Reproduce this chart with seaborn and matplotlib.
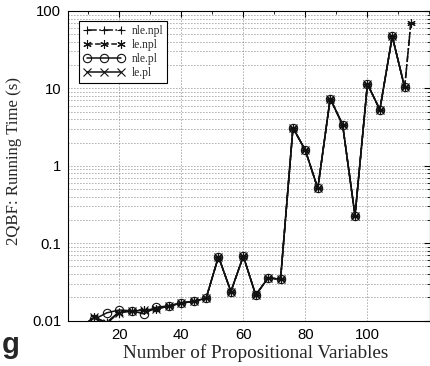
import numpy as np
import pandas as pd
import matplotlib
matplotlib.use("Agg")
import matplotlib.pyplot as plt
import seaborn as sns
from matplotlib.ticker import FixedLocator, MultipleLocator, LogLocator, NullFormatter, FixedFormatter

sns.set_theme(style="white")
plt.rcParams['font.family'] = ['Liberation Sans', 'DejaVu Sans']

# ---- data ----
x_nle_npl = [12, 16, 20, 24, 28, 32, 36, 40, 44, 48, 52, 56, 60, 64, 68, 72, 76, 80, 84, 88, 92, 96, 100, 104, 108, 112, 114]
y_nle_npl = [0.0108, 0.0095, 0.0130, 0.0134, 0.0137, 0.0142, 0.0155, 0.0168, 0.0178, 0.0194, 0.067, 0.0237, 0.068, 0.0214,
             0.0357, 0.0342, 3.1, 1.58, 0.51, 7.4, 3.39, 0.227, 11.4, 5.3, 47.0, 10.3, 71.0]

x_le_npl = [8, 12, 16, 20, 24, 28, 32, 36, 40, 44, 48, 52, 56, 60, 64, 68, 72, 76, 80, 84, 88, 92, 96, 100, 104, 108, 112, 114]
y_le_npl = [0.0085, 0.0110, 0.0093, 0.0127, 0.0133, 0.0138, 0.0140, 0.0155, 0.0168, 0.0178, 0.0194, 0.067, 0.0237, 0.068, 0.0214,
            0.0357, 0.0342, 3.1, 1.58, 0.51, 7.4, 3.39, 0.227, 11.4, 5.3, 47.0, 10.3, 71.0]

x_nle_pl = [12, 16, 20, 24, 28, 32, 36, 40, 44, 48, 52, 56, 60, 64, 68, 72, 76, 80, 84, 88, 92, 96, 100, 104, 108, 112]
y_nle_pl = [0.0104, 0.0126, 0.0137, 0.0134, 0.0122, 0.0149, 0.0155, 0.0168, 0.0178, 0.0194, 0.067, 0.0237, 0.068, 0.0214,
            0.0357, 0.0342, 3.1, 1.58, 0.51, 7.4, 3.39, 0.227, 11.4, 5.3, 47.0, 10.3]

x_le_pl = [8, 12, 16, 20, 24, 28, 32, 36, 40, 44, 48, 52, 56, 60, 64, 68, 72, 76, 80, 84, 88, 92, 96, 100, 104, 108, 112]
y_le_pl = [0.0085, 0.0111, 0.0094, 0.0127, 0.0133, 0.0136, 0.0140, 0.0155, 0.0168, 0.0178, 0.0194, 0.067, 0.0237, 0.068, 0.0214,
           0.0357, 0.0342, 3.1, 1.58, 0.51, 7.4, 3.39, 0.227, 11.4, 5.3, 47.0, 10.3]

series_names = ["nle.npl", "le.npl", "nle.pl", "le.pl"]
x_ticks = [20, 40, 60, 80, 100]
y_ticks = [0.01, 0.1, 1, 10, 100]
y_tick_labels = ["0.01", "0.1", "1", "10", "100"]

W, H = 430, 366

# ---- figure ----
fig = plt.figure(figsize=(W / 100, H / 100), dpi=100)
AX_L, AX_R, AX_T, AX_B = 68.3, 429.5, 11.0, 320.6
ax = fig.add_axes([AX_L / W, 1 - AX_B / H, (AX_R - AX_L) / W, (AX_B - AX_T) / H])

asterisk = (6, 2, 0)
styles = [
    dict(linestyle='-.', marker='+', markersize=6, markeredgewidth=0.8),
    dict(linestyle='--', marker=asterisk, markersize=6, markeredgewidth=0.8),
    dict(linestyle='-', marker='o', markersize=6, markerfacecolor='none', markeredgewidth=0.8),
    dict(linestyle='-', marker='x', markersize=5.5, markeredgewidth=0.8),
]
data = [(x_nle_npl, y_nle_npl), (x_le_npl, y_le_npl), (x_nle_pl, y_nle_pl), (x_le_pl, y_le_pl)]
for name, (xs, ys), st in zip(series_names, data, styles):
    df = pd.DataFrame({"x": xs, "y": ys})
    sns.lineplot(data=df, x="x", y="y", ax=ax, color='#111111', linewidth=1.1,
                 label=name, markeredgecolor='#111111', **st)

ax.set_yscale('log')
ax.set_xlim(3.6, 120)
ax.set_ylim(0.01, 100)
ax.set_xlabel("")
ax.set_ylabel("")

ax.xaxis.set_major_locator(FixedLocator(x_ticks))
ax.xaxis.set_minor_locator(MultipleLocator(10))
ax.yaxis.set_major_locator(FixedLocator(y_ticks))
ax.yaxis.set_major_formatter(FixedFormatter(y_tick_labels))
ax.yaxis.set_minor_locator(LogLocator(base=10, subs=np.arange(2, 10)))
ax.yaxis.set_minor_formatter(NullFormatter())

grid_kw = dict(linestyle=(0, (1, 2.6)), color='#555555', linewidth=0.6)
ax.xaxis.grid(True, which='major', **grid_kw)
ax.yaxis.grid(True, which='both', **grid_kw)

ax.tick_params(axis='both', which='both', direction='in', top=True, right=True,
               labelsize=10.7, colors='black', pad=5)
ax.tick_params(which='major', length=4, width=0.8)
ax.tick_params(which='minor', length=2, width=0.6)
for s in ax.spines.values():
    s.set_color('black')
    s.set_linewidth(0.8)

# axis labels placed as free texts so their extents can be fitted
xl = fig.text(255.5 / W, 1 - 353 / H, "Number of Propositional Variables", family=['Liberation Serif'],
              fontsize=12, ha='center', va='center')
yl = fig.text(14 / W, 1 - 161 / H, "2QBF: Running Time (s)", family=['Liberation Serif'],
              fontsize=12, ha='center', va='center', rotation=90)

fig.canvas.draw()
r = fig.canvas.get_renderer()
bb = xl.get_window_extent(r)
xl.set_fontsize(12 * 265.0 / bb.width)
bb = yl.get_window_extent(r)
yl.set_fontsize(12 * 168.0 / bb.height)

leg = ax.legend(loc='upper left', bbox_to_anchor=(79.3 / W, 1 - 20.7 / H), bbox_transform=fig.transFigure,
                prop={'family': 'Liberation Serif', 'size': 8.3}, numpoints=3, handlelength=3.6,
                handletextpad=0.6, fancybox=False, framealpha=1, edgecolor='black', borderpad=0.35,
                labelspacing=0.18, borderaxespad=0)
leg.get_frame().set_linewidth(0.8)

fig.text(2 / W, 1 - 353 / H, "g", fontsize=21, fontweight='bold', family='Liberation Sans', va='baseline')

fig.savefig("out.png", dpi=100)
